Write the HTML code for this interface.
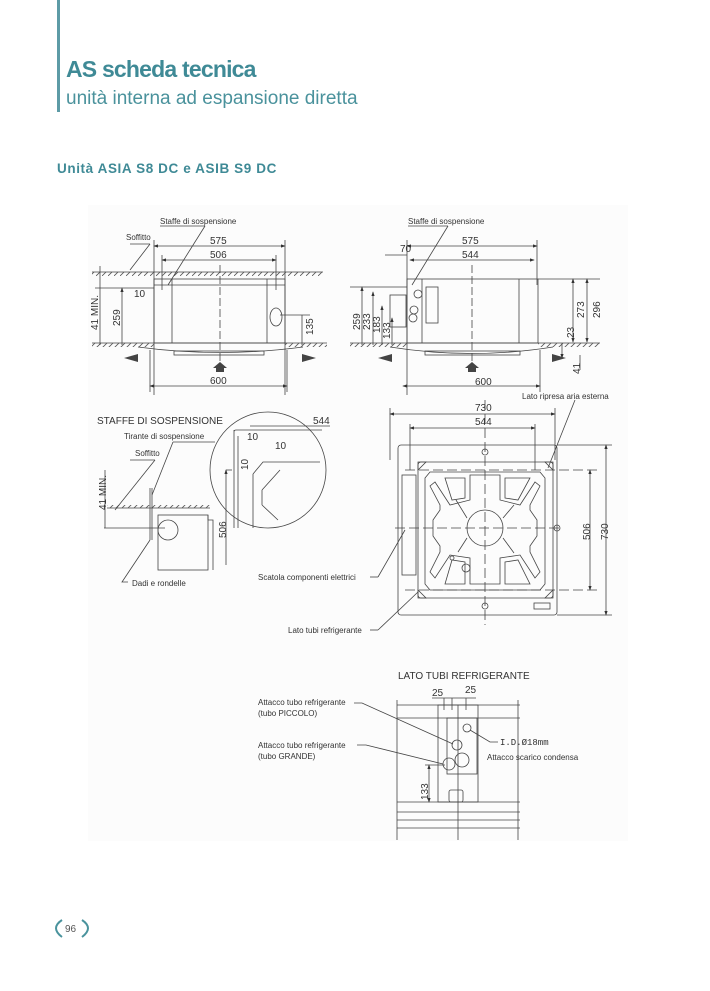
<!DOCTYPE html>
<html><head><meta charset="utf-8"><style>
html,body{margin:0;padding:0;background:#fff;}
body{width:710px;height:991px;position:relative;overflow:hidden;font-family:"Liberation Sans",sans-serif;}
.t{position:absolute;color:#3f8a96;white-space:nowrap;}
svg text{font-family:"Liberation Sans",sans-serif;fill:#333;}
</style></head><body>
<div style="position:absolute;left:57px;top:0;width:3px;height:112px;background:#5d9ba6"></div>
<div class="t" style="left:66px;top:56px;font-size:23px;font-weight:bold;letter-spacing:-0.8px">AS scheda tecnica</div>
<div class="t" style="left:66px;top:88px;font-size:19px;color:#4a929c">unità interna ad espansione diretta</div>
<div class="t" style="left:57px;top:161px;font-size:13.5px;font-weight:bold;letter-spacing:0.6px">Unità ASIA S8 DC e ASIB S9 DC</div>

<svg width="710" height="991" style="position:absolute;left:0;top:0" xmlns="http://www.w3.org/2000/svg">
<rect x="88" y="205" width="540" height="636" fill="#fcfcfc"/>
<defs>
<pattern id="h" width="6" height="6" patternUnits="userSpaceOnUse"><path d="M0 6L6 0" stroke="#555" stroke-width="0.8"/></pattern>
<marker id="a" markerWidth="6" markerHeight="6" refX="5" refY="3" orient="auto-start-reverse"><path d="M0 1L6 3L0 5z" fill="#333"/></marker>
</defs>
<g stroke="#444" stroke-width="0.8" fill="none">
<line x1="154" y1="246" x2="285" y2="246" marker-start="url(#a)" marker-end="url(#a)"/>
<line x1="162" y1="260" x2="276" y2="260" marker-start="url(#a)" marker-end="url(#a)"/>
<line x1="154" y1="240" x2="154" y2="395"/><line x1="285" y1="240" x2="285" y2="395"/>
<line x1="162" y1="255" x2="162" y2="290"/><line x1="276" y1="255" x2="276" y2="290"/>
<line x1="92" y1="272" x2="323" y2="272"/>
<rect x="92" y="272" width="231" height="4" fill="url(#h)" stroke="none"/>
<rect x="154" y="279" width="131" height="64"/>
<line x1="172" y1="279" x2="172" y2="343"/><line x1="267" y1="279" x2="267" y2="343"/>
<line x1="154" y1="285" x2="285" y2="285"/>
<line x1="220" y1="265" x2="220" y2="375" stroke-dasharray="8 3"/>
<line x1="92" y1="343" x2="327" y2="343"/>
<rect x="92" y="343" width="62" height="4" fill="url(#h)" stroke="none"/>
<rect x="285" y="343" width="42" height="4" fill="url(#h)" stroke="none"/>
<path d="M138 347 Q220 358 303 347"/>
<rect x="174" y="351" width="90" height="4"/>
<line x1="100" y1="266" x2="100" y2="345"/><line x1="122" y1="288" x2="122" y2="345" marker-start="url(#a)"/>
<line x1="95" y1="288" x2="154" y2="288"/>
<line x1="150" y1="386" x2="287" y2="386" marker-start="url(#a)" marker-end="url(#a)"/>
<line x1="150" y1="350" x2="150" y2="392"/><line x1="287" y1="350" x2="287" y2="392"/>
<line x1="302" y1="315" x2="302" y2="345"/><line x1="280" y1="315" x2="310" y2="315"/>
<ellipse cx="276" cy="317" rx="6" ry="9"/>
<line x1="205" y1="226" x2="168" y2="285"/><line x1="160" y1="226" x2="205" y2="226"/>
<line x1="130" y1="244" x2="150" y2="244"/><line x1="150" y1="244" x2="130" y2="270"/>
<line x1="407" y1="246" x2="537" y2="246" marker-start="url(#a)" marker-end="url(#a)"/>
<line x1="410" y1="260" x2="534" y2="260" marker-start="url(#a)" marker-end="url(#a)"/>
<line x1="385" y1="255" x2="407" y2="255"/>
<line x1="407" y1="240" x2="407" y2="395"/><line x1="537" y1="240" x2="537" y2="285"/>
<rect x="407" y="279" width="131" height="64"/>
<line x1="422" y1="279" x2="422" y2="343"/><line x1="519" y1="279" x2="519" y2="343"/>
<line x1="538" y1="279" x2="600" y2="279"/>
<line x1="472" y1="265" x2="472" y2="375" stroke-dasharray="8 3"/>
<rect x="390" y="295" width="16" height="32"/>
<rect x="426" y="287" width="12" height="36"/>
<circle cx="418" cy="294" r="4"/><circle cx="414" cy="310" r="4"/><circle cx="413" cy="318" r="4"/>
<line x1="350" y1="343" x2="600" y2="343"/>
<rect x="350" y="343" width="57" height="4" fill="url(#h)" stroke="none"/>
<rect x="538" y="343" width="62" height="4" fill="url(#h)" stroke="none"/>
<path d="M390 347 Q472 360 553 347"/>
<rect x="425" y="351" width="95" height="4"/>
<line x1="350" y1="287" x2="407" y2="287"/>
<line x1="362" y1="287" x2="362" y2="345" marker-start="url(#a)"/>
<line x1="373" y1="292" x2="373" y2="345" marker-start="url(#a)"/>
<line x1="382" y1="306" x2="382" y2="345" marker-start="url(#a)"/>
<line x1="392" y1="318" x2="392" y2="345" marker-start="url(#a)"/>
<line x1="573" y1="279" x2="573" y2="342" marker-start="url(#a)" marker-end="url(#a)"/>
<line x1="587" y1="279" x2="587" y2="342" marker-start="url(#a)" marker-end="url(#a)"/>
<line x1="562" y1="343" x2="562" y2="358" marker-end="url(#a)"/>
<line x1="580" y1="355" x2="580" y2="370"/>
<line x1="403" y1="386" x2="540" y2="386" marker-start="url(#a)" marker-end="url(#a)"/>
<line x1="540" y1="350" x2="540" y2="392"/>
<line x1="448" y1="226" x2="412" y2="285"/><line x1="408" y1="226" x2="448" y2="226"/>
</g>
<g fill="#444">
<path d="M138 354 l-14 4 l14 4z"/><path d="M302 354 l14 4 l-14 4z"/>
<path d="M213 368 l7 -6 l7 6z"/><rect x="216" y="368" width="8" height="4"/>
<path d="M392 354 l-14 4 l14 4z"/><path d="M552 354 l14 4 l-14 4z"/>
<path d="M465 368 l7 -6 l7 6z"/><rect x="468" y="368" width="8" height="4"/>
</g>
<g font-size="8">
<text x="160" y="224">Staffe di sospensione</text>
<text x="126" y="240">Soffitto</text>
<text x="408" y="224">Staffe di sospensione</text>
<text x="522" y="399">Lato ripresa aria esterna</text>
</g>
<g font-size="10">
<text x="210" y="244">575</text><text x="210" y="258">506</text><text x="134" y="297">10</text>
<text x="210" y="384">600</text>
<text x="462" y="244">575</text><text x="462" y="258">544</text><text x="400" y="252">70</text>
<text x="475" y="385">600</text>
<text transform="translate(98,330) rotate(-90)">41 MIN.</text>
<text transform="translate(120,326) rotate(-90)">259</text>
<text transform="translate(313,335) rotate(-90)">135</text>
<text transform="translate(360,330) rotate(-90)">259</text>
<text transform="translate(370,330) rotate(-90)">233</text>
<text transform="translate(380,333) rotate(-90)">183</text>
<text transform="translate(390,339) rotate(-90)">133</text>
<text transform="translate(584,318) rotate(-90)">273</text>
<text transform="translate(600,318) rotate(-90)">296</text>
<text transform="translate(574,338) rotate(-90)">23</text>
<text transform="translate(580,374) rotate(-90)">41</text>
</g>
<g stroke="#444" stroke-width="0.8" fill="none">
<circle cx="268" cy="470" r="58"/>
<path d="M234 430 L234 528 M238 436 L238 528 M234 432 Q234 430 236 430 L322 430"/>
<path d="M253 474 L263 462 L320 462 M253 474 L253 528 M262 490 L280 470 M262 490 L262 505 M262 505 L278 520"/>
<line x1="250" y1="426" x2="330" y2="426"/>
<line x1="232" y1="470" x2="226" y2="470"/>
<line x1="226" y1="470" x2="226" y2="565" marker-start="url(#a)"/>
<line x1="107" y1="508" x2="210" y2="508"/>
<rect x="107" y="505" width="103" height="3" fill="url(#h)" stroke="none"/>
<rect x="158" y="515" width="50" height="55"/>
<path d="M208 515 L208 520 L213 520 L213 570"/>
<circle cx="168" cy="530" r="10"/>
<line x1="150" y1="488" x2="150" y2="540"/><line x1="152" y1="488" x2="152" y2="540"/>
<line x1="104" y1="528" x2="165" y2="528"/>
<line x1="105" y1="470" x2="105" y2="528"/>
<line x1="173" y1="442" x2="215" y2="442"/><line x1="173" y1="442" x2="152" y2="495"/>
<line x1="130" y1="460" x2="155" y2="460"/><line x1="155" y1="460" x2="115" y2="510"/>
<path d="M150 540 L122 582 L128 582"/>
</g>
<g font-size="10"><text x="97" y="424" style="fill:#333">STAFFE DI SOSPENSIONE</text>
<text x="313" y="424">544</text><text x="247" y="440">10</text><text x="275" y="449">10</text>
<text transform="translate(248,470) rotate(-90)">10</text>
<text transform="translate(226,538) rotate(-90)">506</text>
<text transform="translate(106,510) rotate(-90)">41 MIN.</text></g>
<g font-size="8"><text x="124" y="439">Tirante di sospensione</text><text x="135" y="456">Soffitto</text>
<text x="132" y="586">Dadi e rondelle</text>
<text x="258" y="580">Scatola componenti elettrici</text>
<text x="288" y="633">Lato tubi refrigerante</text></g>
<g stroke="#444" stroke-width="0.8" fill="none">
<line x1="390" y1="414" x2="555" y2="414" marker-start="url(#a)" marker-end="url(#a)"/>
<line x1="410" y1="428" x2="535" y2="428" marker-start="url(#a)" marker-end="url(#a)"/>
<line x1="390" y1="408" x2="390" y2="460"/><line x1="555" y1="408" x2="555" y2="460"/>
<line x1="410" y1="424" x2="410" y2="470"/><line x1="535" y1="424" x2="535" y2="470"/>
<rect x="398" y="445" width="159" height="170" rx="3"/>
<rect x="418" y="462" width="135" height="136" rx="3"/>
<rect x="402" y="475" width="14" height="100"/>
<line x1="405" y1="470" x2="600" y2="470" stroke-dasharray="10 4"/>
<line x1="405" y1="590" x2="600" y2="590" stroke-dasharray="10 4"/>
<line x1="395" y1="528" x2="560" y2="528" stroke-dasharray="10 4"/>
<line x1="485" y1="400" x2="485" y2="625" stroke-dasharray="10 4"/>
<line x1="590" y1="470" x2="590" y2="590" marker-start="url(#a)" marker-end="url(#a)"/>
<line x1="606" y1="445" x2="606" y2="615" marker-start="url(#a)" marker-end="url(#a)"/>
<line x1="557" y1="445" x2="612" y2="445"/><line x1="557" y1="615" x2="612" y2="615"/>
<path d="M430 472 L540 472 L545 478 L545 584 L540 590 L430 590 L425 584 L425 478z"/>
<path d="M470 475 L500 475 L500 500 L520 505 L535 482 L540 486 L530 505 L530 510 L537 520 L537 536 L530 546 L530 552 L540 572 L535 578 L520 555 L500 558 L500 584 L470 584 L470 558 L450 555 L435 578 L430 572 L440 552 L440 546 L433 536 L433 520 L440 510 L440 505 L430 486 L435 482 L450 505 L470 500z"/>
<path d="M445 478 L465 478 L465 498 L452 500z M505 478 L530 478 L518 500 L505 498z M445 584 L465 584 L465 562 L452 560z M505 584 L530 584 L518 560 L505 562z"/>
<circle cx="485" cy="528" r="18"/>
<path d="M467 518 L456 500 M503 518 L514 505 M503 538 L514 553 M467 538 L458 552"/>
<rect x="534" y="603" width="16" height="6"/>
<circle cx="485" cy="452" r="3"/><circle cx="485" cy="606" r="3"/><circle cx="557" cy="528" r="3"/>
<circle cx="466" cy="568" r="4"/><circle cx="452" cy="558" r="2"/>
<path d="M418 462 l8 0 l-8 8z M553 462 l-8 0 l8 8z M418 598 l8 0 l-8 -8z M553 598 l-8 0 l8 -8z"/>
<line x1="370" y1="577" x2="378" y2="577"/><line x1="378" y1="577" x2="405" y2="530"/>
<line x1="370" y1="630" x2="378" y2="630"/><line x1="378" y1="630" x2="418" y2="592"/>
<line x1="548" y1="468" x2="575" y2="400"/>
</g>
<g font-size="10"><text x="475" y="411">730</text><text x="475" y="425">544</text>
<text transform="translate(590,540) rotate(-90)">506</text>
<text transform="translate(608,540) rotate(-90)">730</text></g>
<g stroke="#444" stroke-width="0.8" fill="none">
<line x1="397" y1="705" x2="520" y2="705"/><line x1="397" y1="718" x2="520" y2="718"/>
<line x1="397" y1="700" x2="397" y2="840"/><line x1="518" y1="700" x2="518" y2="840"/>
<line x1="397" y1="802" x2="520" y2="802"/><line x1="397" y1="812" x2="520" y2="812"/>
<line x1="397" y1="820" x2="520" y2="820"/><line x1="397" y1="828" x2="520" y2="828"/>
<rect x="438" y="705" width="40" height="97"/>
<rect x="447" y="718" width="30" height="56"/>
<circle cx="467" cy="728" r="4"/><circle cx="457" cy="745" r="5"/>
<circle cx="449" cy="764" r="6"/><circle cx="462" cy="760" r="7"/>
<rect x="449" y="790" width="14" height="12" rx="2"/>
<line x1="458" y1="705" x2="458" y2="840"/>
<line x1="444" y1="698" x2="444" y2="710"/><line x1="452" y1="698" x2="452" y2="710"/><line x1="466" y1="698" x2="466" y2="710"/>
<line x1="432" y1="698" x2="476" y2="698"/>
<line x1="429" y1="765" x2="429" y2="802" marker-start="url(#a)" marker-end="url(#a)"/>
<line x1="425" y1="765" x2="445" y2="765"/>
<path d="M354 703 L362 703 L453 744"/>
<path d="M357 745 L366 745 L443 764"/>
<path d="M498 742 L490 742 L470 730"/>
</g>
<text x="398" y="679" font-size="10" style="fill:#333">LATO TUBI REFRIGERANTE</text>
<g font-size="10"><text x="432" y="696">25</text><text x="465" y="693">25</text>
<text transform="translate(428,800) rotate(-90)">133</text></g>
<text x="500" y="745" font-size="9" style="font-family:'Liberation Mono',monospace;fill:#333">I.D.Ø18mm</text>
<g font-size="8"><text x="258" y="705">Attacco tubo refrigerante</text><text x="258" y="716">(tubo PICCOLO)</text>
<text x="258" y="748">Attacco tubo refrigerante</text><text x="258" y="759">(tubo GRANDE)</text>
<text x="487" y="760">Attacco scarico condensa</text></g>
<path d="M62 920 Q50 928 62 937" stroke="#4a939d" stroke-width="2" fill="none"/>
<path d="M82 920 Q94 928 82 937" stroke="#4a939d" stroke-width="2" fill="none"/>
<text x="65" y="932" font-size="10" style="fill:#555">96</text>
</svg>
</body></html>
